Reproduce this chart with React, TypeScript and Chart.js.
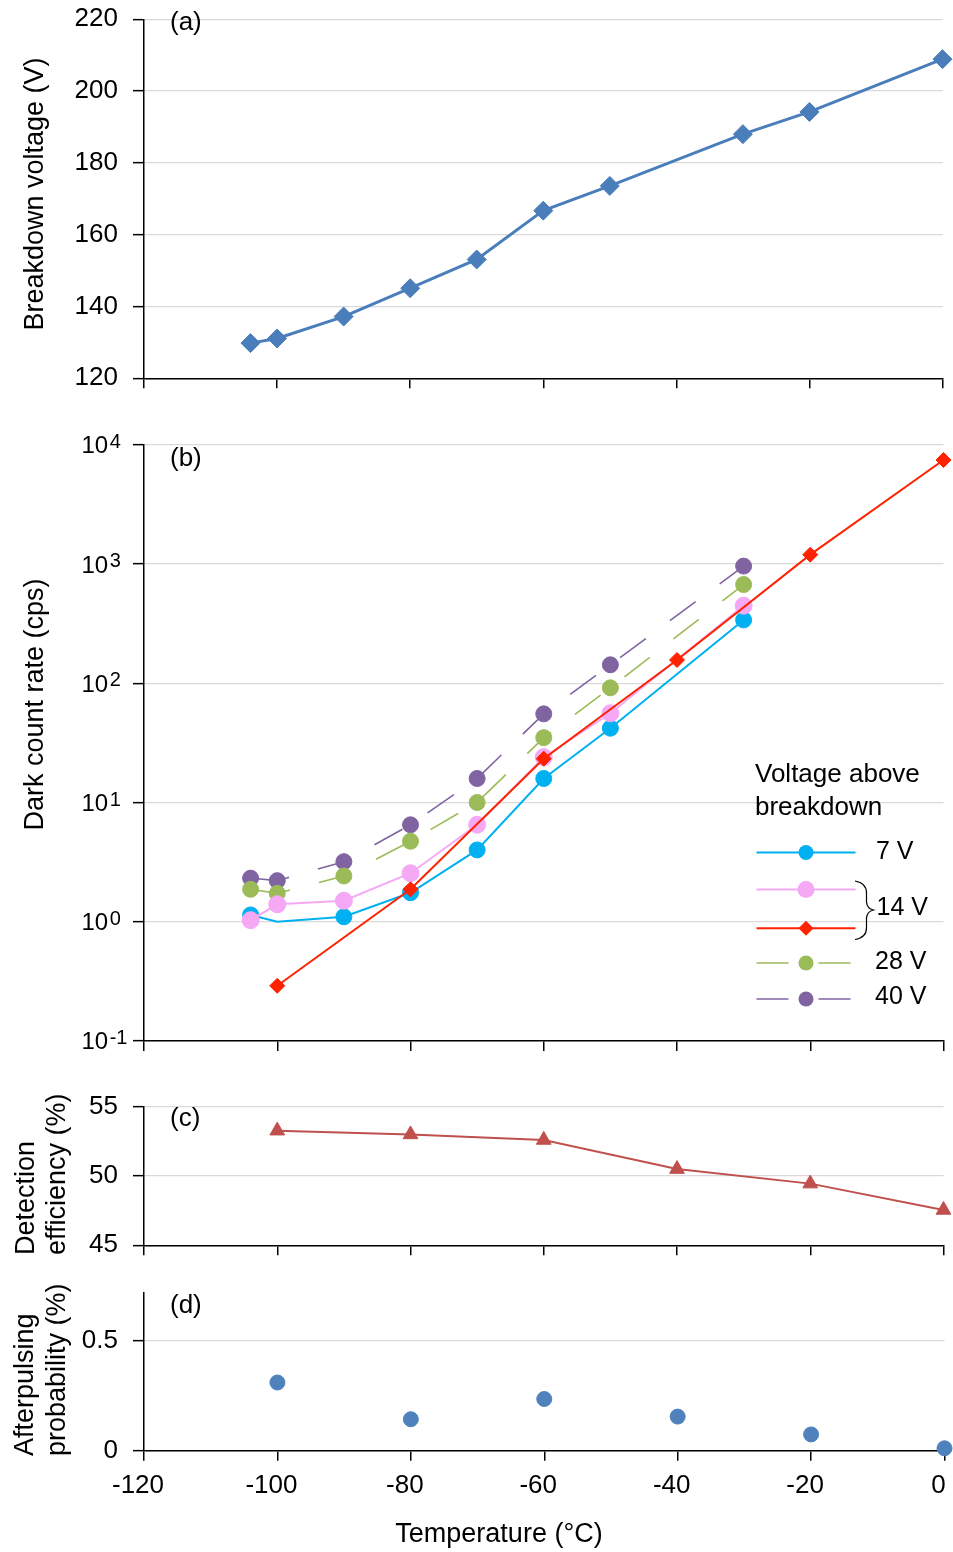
import React, { useEffect, useRef } from 'react';
import { Chart, registerables } from 'chart.js';

Chart.register(...registerables);

const FONT = '"Liberation Sans", Arial, Helvetica, sans-serif';
Chart.defaults.font.family = FONT;
const W = 953;

// ---------------- data ----------------
const temperatureTicks = [-120, -100, -80, -60, -40, -20, 0];

// (a) breakdown voltage
const tempA = [-104, -100, -90, -80, -70, -60, -50, -30, -20, 0];
const breakdownVoltage = [129.8, 131.1, 137.2, 145.1, 153.1, 166.7, 173.6, 188.0, 194.2, 208.9];
const voltageTicks = [120, 140, 160, 180, 200, 220];

// (b) dark count rate
const tempB = [-104, -100, -90, -80, -70, -60, -50, -30];
const dark7V = [1.14, 1.0, 1.1, 1.75, 4.0, 15.9, 42, 340];
const marker7V = [1, 0, 1, 1, 1, 1, 1, 1];
const dark14V = [1.03, 1.4, 1.5, 2.55, 6.5, 24, 56, 448];
const dark28V = [1.87, 1.73, 2.42, 4.73, 10.0, 35, 91.6, 674];
const dark40V = [2.32, 2.21, 3.19, 6.5, 15.9, 55.4, 143, 962];
const tempB14 = [-100, -80, -60, -40, -20, 0];
const dark14Vb = [0.29, 1.87, 23.3, 157, 1200, 7470];
const darkTicks = [0.1, 1, 10, 100, 1000, 10000];
const darkTickExponents = ['-1', '0', '1', '2', '3', '4'];
const legendTitle = ['Voltage above', 'breakdown'];
const legendLabels = ['7 V', '14 V', '28 V', '40 V'];

// (c) detection efficiency
const tempC = [-100, -80, -60, -40, -20, 0];
const detectionEfficiency = [53.27, 53.0, 52.6, 50.5, 49.45, 47.55];
const efficiencyTicks = [45, 50, 55];

// (d) afterpulsing probability
const tempD = [-100, -80, -60, -40, -20, 0];
const afterpulsing = [0.31, 0.143, 0.235, 0.155, 0.074, 0.011];
const afterpulsingTicks = [0, 0.5];

// ---------------- styles ----------------
const C_A = '#4a7ebb';
const C_7 = '#00b0f0';
const C_14 = '#f5a9f5';
const C_14B = '#ff2200';
const C_28 = '#9bbb59';
const C_40 = '#8064a2';
const C_C = '#c0504d';
const C_D = '#4f81bd';
const GRID = '#d9d9d9';
const TITLE_SIZE = 27;

const xy = (xs: number[], ys: number[]) => xs.map((x, i) => ({ x, y: ys[i] }));

const zeroPadding = (s: any) => {
  s.paddingTop = 0;
  s.paddingBottom = 0;
  s.paddingLeft = 0;
  s.paddingRight = 0;
};

const xScale = (height: number, labels: boolean) => ({
  type: 'linear',
  position: 'bottom',
  min: -120,
  max: 0,
  afterBuildTicks: (s: any) => {
    s.ticks = temperatureTicks.map((v) => ({ value: v }));
  },
  afterFit: (s: any) => {
    s.height = height;
    zeroPadding(s);
  },
  grid: {
    display: true,
    drawOnChartArea: false,
    drawTicks: true,
    tickLength: 10,
    color: '#000',
    tickColor: '#000',
    tickWidth: 1.5,
    lineWidth: 1.5,
  },
  border: { display: true, color: '#000', width: 1.5 },
  ticks: {
    display: labels,
    padding: 10,
    labelOffset: -6,
    color: '#000',
    font: { family: FONT, size: 26 },
    maxRotation: 0,
    autoSkip: false,
    callback: (v: any) => String(v),
  },
});

const yScale = (type: string, min: number, max: number, ticks: number[], showLabels: boolean) => ({
  type,
  position: 'left',
  min,
  max,
  afterBuildTicks: (s: any) => {
    s.ticks = ticks.map((v) => ({ value: v }));
  },
  afterFit: (s: any) => {
    s.width = 144;
    zeroPadding(s);
  },
  grid: {
    color: GRID,
    lineWidth: 1.3,
    drawTicks: true,
    tickLength: 11,
    tickColor: '#000',
    tickWidth: 1.5,
  },
  border: { color: '#000', width: 1.5 },
  ticks: {
    display: showLabels,
    padding: 15,
    color: '#000',
    font: { family: FONT, size: 26 },
    autoSkip: false,
    callback: (v: any) => String(v),
  },
});

type Txt = {
  t: string;
  x: number;
  y: number;
  size?: number;
  align?: CanvasTextAlign;
  base?: CanvasTextBaseline;
  rot?: boolean;
};

function drawTexts(ctx: CanvasRenderingContext2D, items: Txt[], oy: number) {
  for (const it of items) {
    ctx.save();
    ctx.font = `${it.size ?? 26}px ${FONT}`;
    ctx.fillStyle = '#000';
    ctx.textAlign = it.align ?? 'left';
    ctx.textBaseline = it.base ?? 'alphabetic';
    ctx.translate(it.x, it.y - oy);
    if (it.rot) ctx.rotate(-Math.PI / 2);
    ctx.fillText(it.t, 0, 0);
    ctx.restore();
  }
}

const textPlugin = (id: string, items: Txt[], oy: number, extra?: (chart: any) => void) => ({
  id,
  afterDraw(chart: any) {
    const ctx = chart.ctx as CanvasRenderingContext2D;
    drawTexts(ctx, items, oy);
    if (extra) extra(chart);
  },
});

const baseOptions = (padTop: number) => ({
  responsive: false,
  maintainAspectRatio: false,
  animation: false,
  events: [],
  layout: { padding: { top: padTop, right: 8, bottom: 0, left: 0 } },
  plugins: { legend: { display: false }, tooltip: { enabled: false }, title: { display: false } },
});

// ---------------- panel configs ----------------
const TOP_A = 0,
  H_A = 400;
const TOP_B = 420,
  H_B = 640;
const TOP_C = 1085,
  H_C = 180;
const TOP_D = 1265,
  H_D = 287;

function configA(): any {
  return {
    type: 'line',
    data: {
      datasets: [
        {
          data: xy(tempA, breakdownVoltage),
          borderColor: C_A,
          backgroundColor: C_A,
          borderWidth: 3,
          pointStyle: 'rectRot',
          pointRadius: 9.5,
          pointBorderWidth: 1,
          pointBackgroundColor: C_A,
          pointBorderColor: C_A,
          tension: 0,
          clip: false,
        },
      ],
    },
    options: {
      ...baseOptions(19.3),
      scales: { x: xScale(H_A - 378.3, false), y: yScale('linear', 120, 220, voltageTicks, true) },
    },
    plugins: [
      textPlugin(
        'textA',
        [
          { t: '(a)', x: 170, y: 23, base: 'middle' },
          { t: 'Breakdown voltage (V)', x: 43, y: 194, align: 'center', rot: true, size: TITLE_SIZE },
        ],
        TOP_A
      ),
    ],
  };
}

function drawMarker(ctx: CanvasRenderingContext2D, shape: string, x: number, y: number, r: number, color: string) {
  ctx.save();
  ctx.fillStyle = color;
  ctx.beginPath();
  if (shape === 'diamond') {
    ctx.moveTo(x - r, y);
    ctx.lineTo(x, y - r);
    ctx.lineTo(x + r, y);
    ctx.lineTo(x, y + r);
    ctx.closePath();
  } else {
    ctx.arc(x, y, r, 0, Math.PI * 2);
  }
  ctx.fill();
  ctx.restore();
}

function configB(): any {
  const oy = TOP_B;
  const legendRows = [
    { y: 852.5, color: C_7, shape: 'circle', r: 7.5, dashed: false },
    { y: 889.5, color: C_14, shape: 'circle', r: 8.5, dashed: false },
    { y: 928.3, color: C_14B, shape: 'diamond', r: 7.5, dashed: false },
    { y: 963, color: C_28, shape: 'circle', r: 7.5, dashed: true },
    { y: 999, color: C_40, shape: 'circle', r: 7.5, dashed: true },
  ];
  const extra = (chart: any) => {
    const ctx = chart.ctx as CanvasRenderingContext2D;
    const ys = chart.scales.y;
    // log tick labels 10^n
    ctx.save();
    ctx.fillStyle = '#000';
    ctx.textAlign = 'left';
    ctx.textBaseline = 'alphabetic';
    darkTicks.forEach((v, i) => {
      const py = ys.getPixelForValue(v);
      ctx.font = `24px ${FONT}`;
      ctx.fillText('10', 81.5, py + 8.5);
      const w = ctx.measureText('10').width;
      ctx.font = `20px ${FONT}`;
      ctx.fillText(darkTickExponents[i], 81.5 + w + 1.5, py + 3);
    });
    ctx.restore();
    // legend lines and markers
    for (const row of legendRows) {
      const y = row.y - oy;
      ctx.save();
      ctx.strokeStyle = row.color;
      ctx.lineWidth = row.dashed ? 1.6 : 2;
      ctx.beginPath();
      if (row.dashed) {
        ctx.moveTo(756.5, y);
        ctx.lineTo(788.5, y);
        ctx.moveTo(818.5, y);
        ctx.lineTo(850.5, y);
      } else {
        ctx.moveTo(756.5, y);
        ctx.lineTo(855.5, y);
      }
      ctx.stroke();
      ctx.restore();
      drawMarker(ctx, row.shape, 806, y, row.r, row.color);
    }
    // brace grouping the two 14 V series
    ctx.save();
    ctx.strokeStyle = '#000';
    ctx.lineWidth = 1.2;
    ctx.beginPath();
    ctx.moveTo(855, 881 - oy);
    ctx.quadraticCurveTo(866.5, 883 - oy, 866.5, 893 - oy);
    ctx.lineTo(866.5, 902 - oy);
    ctx.quadraticCurveTo(867, 908.5 - oy, 873.5, 910 - oy);
    ctx.quadraticCurveTo(867, 911.5 - oy, 866.5, 918 - oy);
    ctx.lineTo(866.5, 928 - oy);
    ctx.quadraticCurveTo(866.5, 937.5 - oy, 855, 939.5 - oy);
    ctx.stroke();
    ctx.restore();
  };
  const lineDs = (data: any, color: string, extraProps: any) => ({
    data,
    borderColor: color,
    backgroundColor: color,
    pointBackgroundColor: color,
    pointBorderColor: color,
    pointBorderWidth: 1,
    borderWidth: 2,
    pointRadius: 8,
    tension: 0,
    clip: false,
    ...extraProps,
  });
  return {
    type: 'line',
    data: {
      datasets: [
        lineDs(xy(tempB14, dark14Vb), C_14B, { pointStyle: 'rectRot', pointRadius: 7.5, order: 0 }),
        lineDs(xy(tempB, dark14V), C_14, { pointRadius: 8.5, order: 1 }),
        lineDs(xy(tempB, dark7V), C_7, { pointRadius: marker7V.map((m) => (m ? 8 : 0)), order: 2 }),
        lineDs(xy(tempB, dark28V), C_28, { borderWidth: 1.6, borderDash: [32, 30], borderDashOffset: 54, order: 3 }),
        lineDs(xy(tempB, dark40V), C_40, { borderWidth: 1.6, borderDash: [32, 30], borderDashOffset: 55, order: 4 }),
      ],
    },
    options: {
      ...baseOptions(444.9 - TOP_B),
      scales: {
        x: xScale(H_B - (1040.9 - TOP_B), false),
        y: yScale('logarithmic', 0.1, 10000, darkTicks, false),
      },
    },
    plugins: [
      textPlugin(
        'textB',
        [
          { t: '(b)', x: 170, y: 458.7, base: 'middle' },
          { t: 'Dark count rate (cps)', x: 43, y: 704.5, align: 'center', rot: true, size: TITLE_SIZE },
          { t: legendTitle[0], x: 755, y: 781.5 },
          { t: legendTitle[1], x: 755, y: 815 },
          { t: legendLabels[0], x: 876, y: 852.5, base: 'middle', size: 25 },
          { t: legendLabels[1], x: 876.5, y: 908.5, base: 'middle', size: 25 },
          { t: legendLabels[2], x: 875, y: 962, base: 'middle', size: 25 },
          { t: legendLabels[3], x: 875, y: 997.5, base: 'middle', size: 25 },
        ],
        oy,
        extra
      ),
    ],
  };
}

function configC(): any {
  return {
    type: 'line',
    data: {
      datasets: [
        {
          data: xy(tempC, detectionEfficiency),
          borderColor: C_C,
          backgroundColor: C_C,
          pointBackgroundColor: C_C,
          pointBorderColor: C_C,
          pointBorderWidth: 1,
          borderWidth: 2,
          pointStyle: 'triangle',
          pointRadius: 8.5,
          tension: 0,
          clip: false,
        },
      ],
    },
    options: {
      ...baseOptions(1106.7 - TOP_C),
      scales: {
        x: xScale(H_C - (1245.3 - TOP_C), false),
        y: yScale('linear', 45, 55, efficiencyTicks, true),
      },
    },
    plugins: [
      textPlugin(
        'textC',
        [
          { t: '(c)', x: 170, y: 1119, base: 'middle' },
          { t: 'Detection', x: 34, y: 1255, align: 'left', rot: true, size: TITLE_SIZE },
          { t: 'efficiency (%)', x: 64.5, y: 1255, align: 'left', rot: true, size: TITLE_SIZE },
        ],
        TOP_C
      ),
    ],
  };
}

function configD(): any {
  return {
    type: 'scatter',
    data: {
      datasets: [
        {
          data: xy(tempD, afterpulsing),
          borderColor: C_D,
          backgroundColor: C_D,
          pointBackgroundColor: C_D,
          pointBorderColor: C_D,
          pointBorderWidth: 1,
          pointRadius: 7.5,
          showLine: false,
          clip: false,
        },
      ],
    },
    options: {
      ...baseOptions(1292.3 - TOP_D),
      scales: {
        x: xScale(H_D - (1450.7 - TOP_D), true),
        y: yScale('linear', 0, 0.72, afterpulsingTicks, true),
      },
    },
    plugins: [
      textPlugin(
        'textD',
        [
          { t: '(d)', x: 170, y: 1305.7, base: 'middle' },
          { t: 'Afterpulsing', x: 32.5, y: 1456, align: 'left', rot: true, size: TITLE_SIZE },
          { t: 'probability (%)', x: 64.5, y: 1456, align: 'left', rot: true, size: TITLE_SIZE },
          { t: 'Temperature (°C)', x: 499, y: 1542, align: 'center', size: TITLE_SIZE },
        ],
        TOP_D
      ),
    ],
  };
}

function Panel({ top, height, make }: { top: number; height: number; make: () => any }) {
  const ref = useRef<HTMLCanvasElement>(null);
  useEffect(() => {
    const chart = new Chart(ref.current as HTMLCanvasElement, make());
    return () => chart.destroy();
  }, []);
  return (
    <canvas
      ref={ref}
      width={W}
      height={height}
      style={{ position: 'absolute', left: 0, top, width: W, height, display: 'block' }}
    />
  );
}

export default function App() {
  return (
    <div style={{ position: 'absolute', left: 0, top: 0, width: W, height: 1552, background: '#fff' }}>
      <Panel top={TOP_A} height={H_A} make={configA} />
      <Panel top={TOP_B} height={H_B} make={configB} />
      <Panel top={TOP_C} height={H_C} make={configC} />
      <Panel top={TOP_D} height={H_D} make={configD} />
    </div>
  );
}
